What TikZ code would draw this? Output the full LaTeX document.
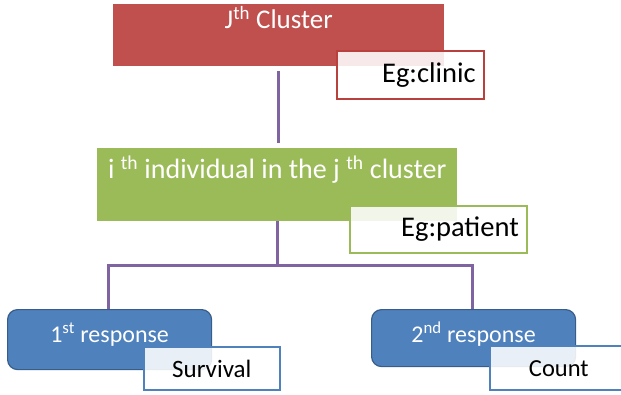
\documentclass[tikz,border=0pt]{standalone}
\usepackage{fontspec}
\setmainfont{Carlito}
\definecolor{ofred}{HTML}{C0504D}
\definecolor{ofredd}{HTML}{B8403D}
\definecolor{ofgreen}{HTML}{9BBB59}
\definecolor{ofblue}{HTML}{4F81BD}
\definecolor{ofblued}{HTML}{385D8A}
\definecolor{ofpurple}{HTML}{8064A2}
\begin{document}
\begin{tikzpicture}[x=1pt,y=-1pt,
  box/.style={anchor=north west,inner xsep=0pt,inner ysep=0pt,text=white},
  tag/.style={anchor=north west,fill=white,fill opacity=0.88,text opacity=1,inner ysep=0pt,line width=1.6pt},
  conn/.style={draw=ofpurple,line width=3pt}]
\useasboundingbox (0,0) rectangle (621,394);
\clip (0,0) rectangle (621,394);
% top level
\node[box,fill=ofred,minimum width=331pt,text height=24pt,text depth=38pt,font=\fontsize{27}{30}\selectfont]
  (red) at (113,4) {J\textsuperscript{th} Cluster};
\node[tag,draw=ofredd,inner xsep=8pt,text width=131pt,align=right,text height=32pt,text depth=16pt,font=\fontsize{28.5}{32}\selectfont]
  (clinic) at (336,50) {Eg:clinic};
% middle level
\node[box,fill=ofgreen,minimum width=360pt,text height=30pt,text depth=43pt,font=\fontsize{28}{32}\selectfont]
  (green) at (97,148) {i \textsuperscript{th} individual in the j \textsuperscript{th} cluster};
\node[tag,draw=ofgreen,inner xsep=8pt,text width=161pt,align=right,text height=31pt,text depth=16pt,font=\fontsize{28.5}{32}\selectfont]
  (patient) at (349,205) {Eg:patient};
% connectors
\draw[conn,shorten <=5pt,shorten >=5pt] (red.south -| 278,0) -- (green.north -| 278,0);
\coordinate (jn) at (277,265);
\draw[conn] (green.south -| jn) -- (jn);
\draw[conn] (jn) -| (108,309) coordinate (t1);
\draw[conn] (jn) -| (472,309) coordinate (t2);
% bottom level
\node[box,fill=ofblue,draw=ofblued,line width=1.2pt,rounded corners=10pt,minimum width=204pt,text height=33pt,text depth=27pt,font=\fontsize{24}{28}\selectfont]
  (b1) at (7,309) {1\textsuperscript{st} response};
\node[tag,draw=ofblue,inner xsep=0pt,minimum width=136pt,text height=31pt,text depth=12pt,font=\fontsize{25}{28}\selectfont]
  (surv) at (143,346) {Survival};
\node[box,fill=ofblue,draw=ofblued,line width=1.2pt,rounded corners=10pt,minimum width=204pt,text height=33pt,text depth=24pt,font=\fontsize{24}{28}\selectfont]
  (b2) at (371,309) {2\textsuperscript{nd} response};
\node[tag,draw=ofblue,inner xsep=0pt,minimum width=138pt,text height=31pt,text depth=13pt,font=\fontsize{24.5}{28}\selectfont]
  (count) at (489,345) {Count};
\end{tikzpicture}
\end{document}
